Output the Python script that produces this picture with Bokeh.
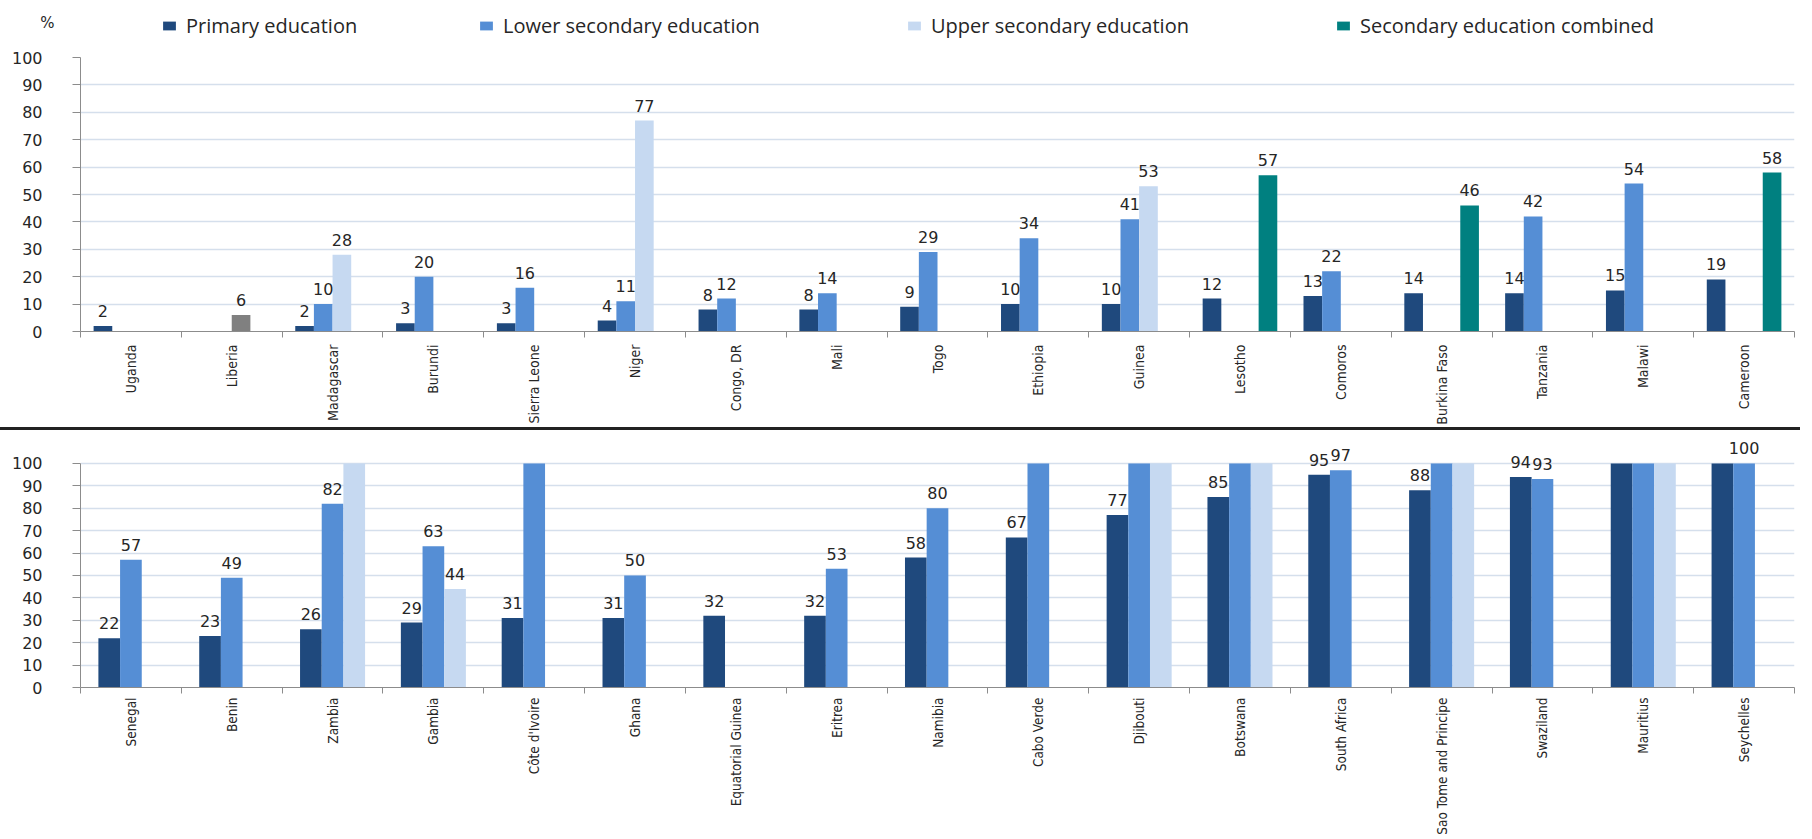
import math
from bokeh.plotting import figure
from bokeh.core.properties import value
from bokeh.models import (Range1d, FixedTicker, ColumnDataSource, LabelSet, Legend,
                          LegendItem, Div)
from bokeh.transform import dodge
from bokeh.layouts import column
from bokeh.embed import file_html
from bokeh.resources import INLINE

# ---------------- data ----------------
unit_label = "%"
series_names = ["Primary education", "Lower secondary education",
                "Upper secondary education", "Secondary education combined"]

top_countries = ["Uganda", "Liberia", "Madagascar", "Burundi", "Sierra Leone", "Niger",
                 "Congo, DR", "Mali", "Togo", "Ethiopia", "Guinea", "Lesotho", "Comoros",
                 "Burkina Faso", "Tanzania", "Malawi", "Cameroon"]
top_primary = [2, None, 2, 3, 3, 4, 8, 8, 9, 10, 10, 12, 13, 14, 14, 15, 19]
top_lower = [None, None, 10, 20, 16, 11, 12, 14, 29, 34, 41, None, 22, None, 42, 54, None]
top_upper = [None, None, 28, None, None, 77, None, None, None, None, 53, None, None, None, None, None, None]
top_other = [None, 6, None, None, None, None, None, None, None, None, None, None, None, None, None, None, None]
top_combined = [None, None, None, None, None, None, None, None, None, None, None, 57, None, 46, None, None, 58]

bot_countries = ["Senegal", "Benin", "Zambia", "Gambia", "Côte d'Ivoire", "Ghana",
                 "Equatorial Guinea", "Eritrea", "Namibia", "Cabo Verde", "Djibouti",
                 "Botswana", "South Africa", "Sao Tome and Principe", "Swaziland",
                 "Mauritius", "Seychelles"]
bot_primary = [22, 23, 26, 29, 31, 31, 32, 32, 58, 67, 77, 85, 95, 88, 94, 101, 101]
bot_lower = [57, 49, 82, 63, 101, 50, None, 53, 80, 101, 101, 101, 97, 101, 93, 101, 100]
bot_upper = [None, None, 101, 44, None, None, None, None, None, None, 101, 101, None, 101, None, 101, None]

y_ticks = list(range(0, 101, 10))
AXIS_MAX = 100

# ---------------- style ----------------
C_PRIM = "#1F497D"
C_LOW = "#558ED5"
C_UP = "#C6D9F1"
C_COMB = "#008080"
C_GREY = "#808080"
NUM_FONT = "'DejaVu Sans'"
CAT_FONT = "'Liberation Sans Narrow', 'DejaVu Sans Condensed', 'Noto Sans'"
LEG_FONT = "'Open Sans'"
TXT = "#262626"
AXC = "#8C8C8C"
GRID = "#D5DFEC"

W = 1800
LEFT = 80
RIGHT = 6


def series_source(values):
    xs, ys, shown, labs = [], [], [], []
    for i, v in enumerate(values):
        if v is None:
            continue
        xs.append(i)
        ys.append(v)
        shown.append(min(v, AXIS_MAX))   # bars are cut at the axis maximum
        labs.append(str(v) if v <= AXIS_MAX else "")
    return ColumnDataSource(dict(pos=xs, value=ys, shown=shown, label=labs))


def make_fig(countries, height, y_end, top_border, bottom_border, cat_standoff, cat_size):
    n = len(countries)
    p = figure(width=W, height=height, x_range=Range1d(-0.5, n - 0.5),
               y_range=Range1d(0, y_end),
               output_backend="svg", toolbar_location=None,
               min_border_left=LEFT, min_border_right=RIGHT,
               min_border_top=top_border, min_border_bottom=bottom_border)
    p.outline_line_color = None
    p.xgrid.grid_line_color = None
    p.ygrid.grid_line_color = GRID
    p.ygrid.grid_line_width = 1.6
    p.ygrid.ticker = FixedTicker(ticks=y_ticks)
    ya = p.yaxis[0]
    ya.ticker = FixedTicker(ticks=y_ticks)
    ya.bounds = (0, AXIS_MAX)
    ya.axis_line_color = AXC
    ya.major_tick_line_color = AXC
    ya.major_tick_out = 8
    ya.major_tick_in = 0
    ya.minor_tick_line_color = None
    ya.major_label_text_font = NUM_FONT
    ya.major_label_text_font_size = "16px"
    ya.major_label_text_color = TXT
    ya.major_label_standoff = 30

    xa = p.xaxis[0]
    xa.ticker = FixedTicker(ticks=list(range(n)),
                            minor_ticks=[i - 0.5 for i in range(n + 1)])
    xa.major_label_overrides = {i: c for i, c in enumerate(countries)}
    xa.major_tick_line_color = None
    xa.major_tick_out = 0
    xa.major_tick_in = 0
    xa.minor_tick_line_color = AXC
    xa.minor_tick_out = 6
    xa.minor_tick_in = 0
    xa.axis_line_color = AXC
    xa.major_label_orientation = math.pi / 2
    xa.major_label_text_font = CAT_FONT
    xa.major_label_text_font_size = cat_size
    xa.major_label_text_color = TXT
    xa.major_label_standoff = cat_standoff
    return p


def add_series(p, values, offset, width, color):
    src = series_source(values)
    r = p.vbar(x=dodge("pos", offset), top="shown", bottom=0,
               width=width, source=src, fill_color=color, line_color=None)
    labels = LabelSet(x=dodge("pos", offset), y="value", text="label",
                      source=src, text_align="center", text_baseline="alphabetic",
                      y_offset=9, text_font=value(NUM_FONT), text_font_size=value("16px"),
                      text_color=TXT)
    p.add_layout(labels)
    return r


# ---------------- header (legend + unit) ----------------
HH = 45
head = figure(width=W, height=HH, x_range=Range1d(0, W - LEFT - RIGHT), y_range=Range1d(0, HH),
              output_backend="svg", toolbar_location=None, x_axis_location=None,
              min_border_left=LEFT, min_border_right=RIGHT, min_border_top=0, min_border_bottom=0)
head.outline_line_color = None
head.xgrid.grid_line_color = None
head.ygrid.grid_line_color = None
hy = head.yaxis[0]
hy.ticker = FixedTicker(ticks=[23])
hy.major_label_overrides = {23: unit_label}
hy.axis_line_color = None
hy.major_tick_line_color = None
hy.minor_tick_line_color = None
hy.major_tick_out = 0
hy.major_tick_in = 0
hy.major_label_standoff = 26
hy.major_label_text_font = NUM_FONT
hy.major_label_text_font_size = "15px"
hy.major_label_text_color = TXT

legend_colors = [C_PRIM, C_LOW, C_UP, C_COMB]
legend_x = [81, 398, 826, 1255]
for name, col, lx in zip(series_names, legend_colors, legend_x):
    dummy = head.vbar(x=[-1000], top=[0], width=1, fill_color=col, line_color=None)
    lg = Legend(items=[LegendItem(label=name, renderers=[dummy])], location=(lx, 6),
                orientation="horizontal", border_line_color=None,
                background_fill_alpha=0, label_text_font=LEG_FONT,
                label_text_font_size="20px", label_text_color=TXT,
                glyph_width=16, glyph_height=11, label_standoff=9,
                padding=0, margin=0, spacing=0, label_height=18)
    head.add_layout(lg, "center")

# ---------------- top chart ----------------
top = make_fig(top_countries, 382, AXIS_MAX, 12, 96, 7, "14px")
tw = 0.185
add_series(top, top_primary, -1.5 * tw, tw, C_PRIM)
add_series(top, top_lower, -0.5 * tw, tw, C_LOW)
add_series(top, top_upper, 0.5 * tw, tw, C_UP)
add_series(top, top_other, 0.5 * tw, tw, C_GREY)
add_series(top, top_combined, 1.5 * tw, tw, C_COMB)

# ---------------- separator ----------------
sep = Div(text="", width=W, height=3, margin=0,
          styles={"background-color": "#222222"})

# ---------------- bottom chart ----------------
bot = make_fig(bot_countries, 409, 114.7, 0, 152, 4, "13.5px")
bw = 0.215
add_series(bot, bot_primary, -bw, bw, C_PRIM)
add_series(bot, bot_lower, 0, bw, C_LOW)
add_series(bot, bot_upper, bw, bw, C_UP)

layout = column(head, top, sep, bot, spacing=0)
open("out.html", "w").write(file_html(layout, INLINE))
